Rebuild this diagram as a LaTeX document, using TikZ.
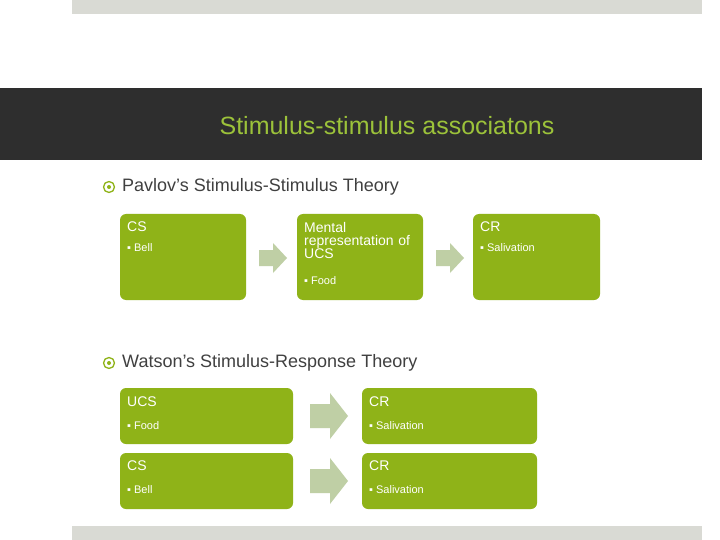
\documentclass[tikz,border=0pt]{standalone}
\usepackage{fontspec}
\setmainfont{Liberation Sans}
\begin{document}
\begin{tikzpicture}[x=1pt,y=-1pt,
  gbox/.style={fill=boxg,draw=none,rounded corners=6pt},
  arr/.style={fill=arrg,draw=none},
  hd/.style={text=white,anchor=north west,font=\fontsize{14}{15}\selectfont,align=left,inner sep=0pt},
  it/.style={text=white,anchor=north west,font=\fontsize{11}{12}\selectfont,inner sep=0pt},
  icon/.style={circle,draw=olive0,line width=1.3pt,minimum size=11pt,inner sep=0pt}]
\definecolor{boxg}{HTML}{8FB318}
\definecolor{arrg}{HTML}{BFCFA5}
\definecolor{olive0}{HTML}{8FB318}
\definecolor{barg}{HTML}{D9DAD4}
\definecolor{darkb}{HTML}{2E2E2E}
\definecolor{titg}{HTML}{9CC23A}
\definecolor{txt}{HTML}{404040}
\useasboundingbox (0,0) rectangle (720,540);
\fill[white] (0,0) rectangle (720,540);
\fill[barg] (72,0) rectangle (702,14);
\fill[barg] (72,526) rectangle (702,540);
\fill[darkb] (0,88) rectangle (702,160);
\node[text=titg,font=\fontsize{25}{28}\selectfont] (title) at (387,126) {Stimulus-stimulus associatons};
% bullets
\node[icon] (i1) at (109,187) {}; \fill[olive0] (i1) circle (2pt);
\node[text=txt,anchor=west,font=\fontsize{18}{20}\selectfont,inner sep=0pt] (p) at (122,187) {Pavlov’s Stimulus-Stimulus Theory};
\node[icon] (i2) at (109,363) {}; \fill[olive0] (i2) circle (2pt);
\node[text=txt,anchor=west,font=\fontsize{18}{20}\selectfont,inner sep=0pt] (w) at (122,363) {Watson’s Stimulus-Response Theory};
% Pavlov boxes
\fill[gbox] (120,214) rectangle (246,300);
\fill[gbox] (297,214) rectangle (423,300);
\fill[gbox] (473,214) rectangle (600,300);
\node[hd] (a) at (127,222) {CS};
\node[it] (ab) at (127,243) {▪ Bell};
\node[hd,text width=115pt] (b) at (304,222) {Mental\\[-2pt]representation of\\[-2pt]UCS};
\node[it] (bb) at (304,276) {▪ Food};
\node[hd] (c) at (480,222) {CR};
\node[it] (cb) at (480,243) {▪ Salivation};
\fill[arr] (259,250) -- (273,250) -- (273,243) -- (287,258) -- (273,273) -- (273,266) -- (259,266) -- cycle;
\fill[arr] (436,250) -- (450,250) -- (450,243) -- (464,258) -- (450,273) -- (450,266) -- (436,266) -- cycle;
% Watson boxes
\fill[gbox] (120,388) rectangle (293,444);
\fill[gbox] (362,388) rectangle (537,444);
\fill[gbox] (120,453) rectangle (293,509);
\fill[gbox] (362,453) rectangle (537,509);
\node[hd] (d) at (127,397) {UCS};
\node[it] (db) at (127,421) {▪ Food};
\node[hd] (e) at (369,397) {CR};
\node[it] (eb) at (369,421) {▪ Salivation};
\node[hd] (f) at (127,461) {CS};
\node[it] (fb) at (127,485) {▪ Bell};
\node[hd] (g) at (369,461) {CR};
\node[it] (gb) at (369,485) {▪ Salivation};
\fill[arr] (310,404) -- (330,404) -- (330,393) -- (348,416) -- (330,439) -- (330,428) -- (310,428) -- cycle;
\fill[arr] (310,469) -- (330,469) -- (330,458) -- (348,481) -- (330,504) -- (330,493) -- (310,493) -- cycle;
\end{tikzpicture}
\end{document}
